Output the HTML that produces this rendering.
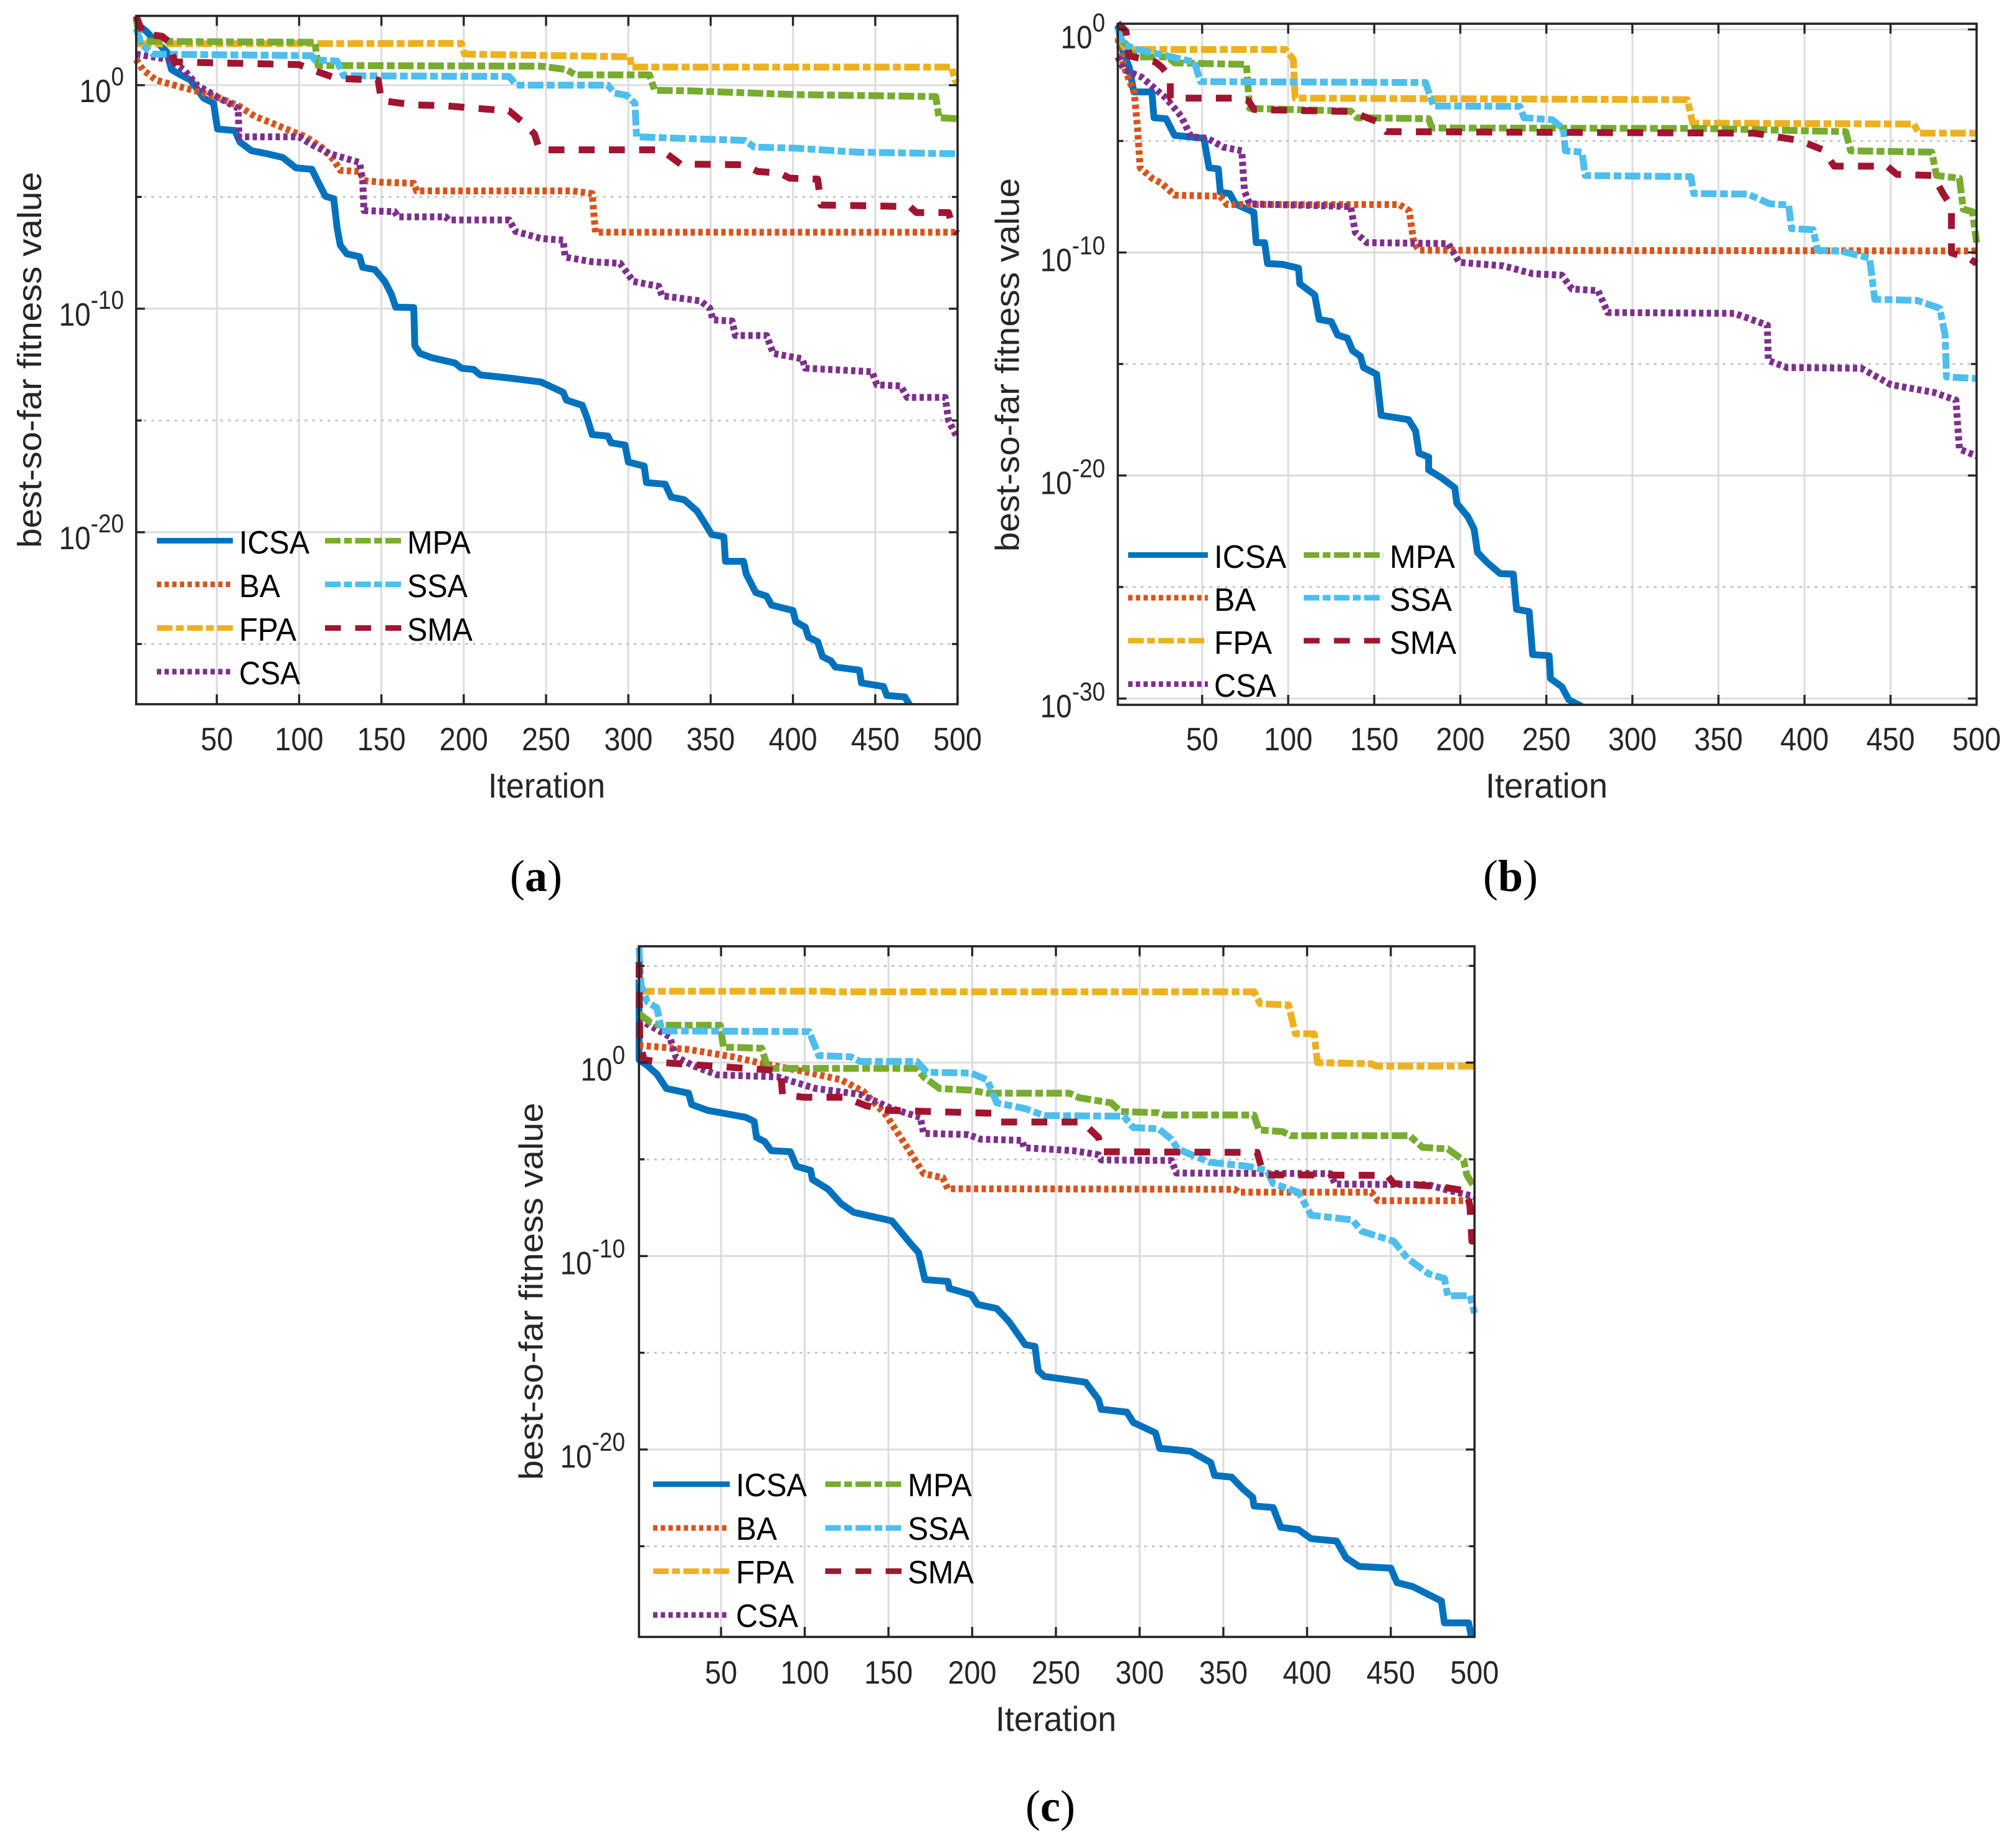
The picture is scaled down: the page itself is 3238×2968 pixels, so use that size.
<!DOCTYPE html>
<html lang="en">
<head>
<meta charset="utf-8">
<title>Convergence curves: best-so-far fitness value vs iteration</title>
<style>
html,body{margin:0;padding:0;background:#fff;}
svg{display:block;font-family:"Liberation Sans",Arial,sans-serif;}
.curve{fill:none;stroke-width:11;stroke-linejoin:round;stroke-linecap:butt;}
.swatch{fill:none;stroke-width:9;stroke-linecap:butt;}
.ICSA{stroke:#0072bd;}
.BA{stroke:#d95319;stroke-dasharray:7 5.3;}
.FPA{stroke:#edb120;stroke-dasharray:25 5.5 12.5 5.5;}
.CSA{stroke:#7e2f8e;stroke-dasharray:7 5.3;}
.MPA{stroke:#77ac30;stroke-dasharray:25 5.5 12.5 5.5;}
.SSA{stroke:#4dbeee;stroke-dasharray:25 5.5 12.5 5.5;}
.SMA{stroke:#a2142f;stroke-dasharray:25.5 23;}
.frame{fill:none;stroke:#262626;stroke-width:3.6;}
.leg{font-size:52px;fill:#000;}
.xtitle{font-size:56px;fill:#262626;text-anchor:middle;}
.ytitle{font-size:54px;fill:#262626;text-anchor:middle;}
.cap{font-family:"Liberation Serif",serif;font-size:72px;fill:#000;text-anchor:middle;}
</style>
</head>
<body>
<svg xmlns="http://www.w3.org/2000/svg" width="3238" height="2968" viewBox="0 0 3238 2968">
<rect x="0" y="0" width="3238" height="2968" fill="#fff"/>
<defs>
<clipPath id="clip-a"><rect x="213" y="20" width="1331" height="1111"/></clipPath>
<clipPath id="clip-b"><rect x="1790" y="33" width="1390" height="1099"/></clipPath>
<clipPath id="clip-c"><rect x="1021" y="1515" width="1352" height="1114"/></clipPath>
</defs>

<g id="panel-a">
  <g id="grid-a"></g>
  <g id="curves-a" clip-path="url(#clip-a)"></g>
  <rect class="frame" x="218.7" y="25.5" width="1319.3" height="1105.5"/>
  <g id="ticks-a"></g>
  <text class="xtitle" x="878" y="1281" textLength="188" lengthAdjust="spacingAndGlyphs">Iteration</text>
  <text class="ytitle" transform="translate(66 578) rotate(-90)" textLength="604" lengthAdjust="spacingAndGlyphs">best-so-far fitness value</text>
  <g>
    <line class="swatch ICSA" x1="252" x2="374" y1="868.4" y2="868.4"/>
    <text class="leg" x="384" y="889" textLength="113" lengthAdjust="spacingAndGlyphs">ICSA</text>
    <line class="swatch BA" x1="252" x2="374" y1="938.5" y2="938.5"/>
    <text class="leg" x="384" y="959" textLength="66" lengthAdjust="spacingAndGlyphs">BA</text>
    <line class="swatch FPA" x1="252" x2="374" y1="1008.6" y2="1008.6"/>
    <text class="leg" x="384" y="1029" textLength="92" lengthAdjust="spacingAndGlyphs">FPA</text>
    <line class="swatch CSA" x1="252" x2="374" y1="1078.7" y2="1078.7"/>
    <text class="leg" x="384" y="1099" textLength="98" lengthAdjust="spacingAndGlyphs">CSA</text>
    <line class="swatch MPA" x1="522" x2="645" y1="868.4" y2="868.4"/>
    <text class="leg" x="654" y="889" textLength="102" lengthAdjust="spacingAndGlyphs">MPA</text>
    <line class="swatch SSA" x1="522" x2="645" y1="938.5" y2="938.5"/>
    <text class="leg" x="654" y="959" textLength="97" lengthAdjust="spacingAndGlyphs">SSA</text>
    <line class="swatch SMA" x1="522" x2="645" y1="1008.6" y2="1008.6"/>
    <text class="leg" x="654" y="1029" textLength="105" lengthAdjust="spacingAndGlyphs">SMA</text>
  </g>
  <text class="cap" x="861" y="1431">(<tspan font-weight="bold">a</tspan>)</text>
</g>

<g id="panel-b">
  <g id="grid-b"></g>
  <g id="curves-b" clip-path="url(#clip-b)"></g>
  <rect class="frame" x="1795.4" y="38.1" width="1379.3" height="1093.9"/>
  <g id="ticks-b"></g>
  <text class="xtitle" x="2484" y="1281" textLength="196" lengthAdjust="spacingAndGlyphs">Iteration</text>
  <text class="ytitle" transform="translate(1636.6 586) rotate(-90)" textLength="600" lengthAdjust="spacingAndGlyphs">best-so-far fitness value</text>
  <g>
    <line class="swatch ICSA" x1="1812" x2="1940" y1="891.4" y2="891.4"/>
    <text class="leg" x="1950" y="912" textLength="116" lengthAdjust="spacingAndGlyphs">ICSA</text>
    <line class="swatch BA" x1="1812" x2="1940" y1="960" y2="960"/>
    <text class="leg" x="1950" y="981" textLength="67" lengthAdjust="spacingAndGlyphs">BA</text>
    <line class="swatch FPA" x1="1812" x2="1940" y1="1029" y2="1029"/>
    <text class="leg" x="1950" y="1050" textLength="93" lengthAdjust="spacingAndGlyphs">FPA</text>
    <line class="swatch CSA" x1="1812" x2="1940" y1="1098.7" y2="1098.7"/>
    <text class="leg" x="1950" y="1119" textLength="100" lengthAdjust="spacingAndGlyphs">CSA</text>
    <line class="swatch MPA" x1="2094" x2="2222" y1="891.4" y2="891.4"/>
    <text class="leg" x="2232" y="912" textLength="105" lengthAdjust="spacingAndGlyphs">MPA</text>
    <line class="swatch SSA" x1="2094" x2="2222" y1="960" y2="960"/>
    <text class="leg" x="2232" y="981" textLength="100" lengthAdjust="spacingAndGlyphs">SSA</text>
    <line class="swatch SMA" x1="2094" x2="2222" y1="1029" y2="1029"/>
    <text class="leg" x="2232" y="1050" textLength="107" lengthAdjust="spacingAndGlyphs">SMA</text>
  </g>
  <text class="cap" x="2426" y="1431">(<tspan font-weight="bold">b</tspan>)</text>
</g>

<g id="panel-c">
  <g id="grid-c"></g>
  <g id="curves-c" clip-path="url(#clip-c)"></g>
  <rect class="frame" x="1026.3" y="1519.8" width="1342" height="1109.2"/>
  <g id="ticks-c"></g>
  <text class="xtitle" x="1696" y="2780" textLength="194" lengthAdjust="spacingAndGlyphs">Iteration</text>
  <text class="ytitle" transform="translate(871.4 2074) rotate(-90)" textLength="606" lengthAdjust="spacingAndGlyphs">best-so-far fitness value</text>
  <g>
    <line class="swatch ICSA" x1="1049" x2="1172" y1="2383.8" y2="2383.8"/>
    <text class="leg" x="1182" y="2403" textLength="114" lengthAdjust="spacingAndGlyphs">ICSA</text>
    <line class="swatch BA" x1="1049" x2="1172" y1="2454" y2="2454"/>
    <text class="leg" x="1182" y="2473" textLength="66" lengthAdjust="spacingAndGlyphs">BA</text>
    <line class="swatch FPA" x1="1049" x2="1172" y1="2523.4" y2="2523.4"/>
    <text class="leg" x="1182" y="2543" textLength="93" lengthAdjust="spacingAndGlyphs">FPA</text>
    <line class="swatch CSA" x1="1049" x2="1172" y1="2593.8" y2="2593.8"/>
    <text class="leg" x="1182" y="2613" textLength="100" lengthAdjust="spacingAndGlyphs">CSA</text>
    <line class="swatch MPA" x1="1325.5" x2="1449" y1="2383.8" y2="2383.8"/>
    <text class="leg" x="1458" y="2403" textLength="103" lengthAdjust="spacingAndGlyphs">MPA</text>
    <line class="swatch SSA" x1="1325.5" x2="1449" y1="2454" y2="2454"/>
    <text class="leg" x="1458" y="2473" textLength="99" lengthAdjust="spacingAndGlyphs">SSA</text>
    <line class="swatch SMA" x1="1325.5" x2="1449" y1="2523.4" y2="2523.4"/>
    <text class="leg" x="1458" y="2543" textLength="106" lengthAdjust="spacingAndGlyphs">SMA</text>
  </g>
  <text class="cap" x="1687" y="2925">(<tspan font-weight="bold">c</tspan>)</text>
</g>
</svg>

<script>
/* Tick values and labels */
const xTickValues = [50,100,150,200,250,300,350,400,450,500];
const xTickLabels = ['50','100','150','200','250','300','350','400','450','500'];
const aMajorExponents = [0,-10,-20];
const aMinorExponents = [-5,-15,-25];
const bMajorExponents = [0,-10,-20,-30];
const bMinorExponents = [-5,-15,-25];
const cMajorExponents = [0,-10,-20];
const cMinorExponents = [5,-5,-15,-25];

/* Panel (a): iteration and log10(best-so-far fitness) */
const a_ICSA_iter = [1,7,13,19.5,22.5,28,34,42,48,50.4,61,64,71,80.6,90,98,107.7,111.5,116,121,123,125,129,136.7,138.6,146,152,156,158.7,169.6,170.3,173.4,181,194.7,198.6,206,210,227.6,247,260.4,262.4,272,275,278,287.6,289.5,298,300,309.6,311,322.4,326,334,341.7,345.6,350.6,358,359,370,371.6,374.6,377.4,384,387,400,401.7,407.5,409.4,415,418,423,425.7,440.4,441.6,455,457,468,471];
const a_ICSA_log = [2.77,2.42,1.96,1.5,0.7,0.46,0.23,-0.58,-0.8,-1.96,-2.03,-2.54,-2.93,-3.07,-3.23,-3.7,-3.76,-4.32,-4.97,-5.08,-6.35,-7.16,-7.55,-7.67,-8.15,-8.25,-8.78,-9.35,-9.93,-9.95,-11.66,-12,-12.2,-12.43,-12.66,-12.72,-12.96,-13.1,-13.28,-13.74,-14.09,-14.32,-14.9,-15.63,-15.7,-16,-16.1,-16.86,-17.04,-17.78,-17.85,-18.43,-18.55,-19.05,-19.5,-20.1,-20.2,-21.3,-21.3,-21.87,-22.3,-22.7,-22.86,-23.26,-23.5,-24,-24.25,-24.7,-24.9,-25.57,-25.75,-26.03,-26.17,-26.74,-26.9,-27.3,-27.37,-27.74];
const a_BA_iter = [1,5,13,26.5,42,51.6,63,73,84.5,96,104,113.5,121,125,136.7,139.5,150,169.6,171.4,266,278,280,500];
const a_BA_log = [1.15,0.7,0.23,-0.05,-0.35,-0.58,-0.92,-1.39,-1.73,-2.08,-2.31,-2.77,-3.35,-3.81,-3.86,-4.27,-4.34,-4.39,-4.73,-4.73,-4.85,-6.58,-6.58];
const a_FPA_iter = [1,198.6,200.5,301,301.8,496.4,498.3,500];
const a_FPA_log = [1.85,1.87,1.39,1.27,0.81,0.81,0.23,0.12];
const a_CSA_iter = [1,20.6,30,38,49.7,63,63.5,100,107.7,119,136.7,138.6,139.4,158,160,189,190.8,227.6,231.5,247,260.4,261.6,278,295,303,318.5,320.4,343.7,349.5,351.4,363,365,384,388,405.6,407.5,448,451,465.5,469.4,492.5,494.5,500];
const a_CSA_log = [1.39,1.15,0.69,0,-0.5,-1.04,-2.31,-2.31,-2.66,-3.07,-3.46,-4.27,-5.61,-5.66,-5.89,-5.89,-6.03,-6.03,-6.54,-6.86,-6.93,-7.69,-7.9,-7.97,-8.78,-9,-9.42,-9.65,-9.98,-10.5,-10.55,-11.2,-11.2,-12,-12.24,-12.66,-12.82,-13.4,-13.46,-13.97,-13.97,-15,-15.8];
const a_MPA_iter = [1,3.3,109.6,111.5,247,262.4,268,312.8,316,336,401.7,486.8,488.7,500];
const a_MPA_log = [3,1.96,1.92,0.88,0.85,0.7,0.46,0.46,-0.23,-0.25,-0.42,-0.51,-1.45,-1.5];
const a_SSA_iter = [1,4,11,107.7,109.6,123,127,227.6,232,287.6,291.5,299,304,305,332,370.7,376.5,401.7,440,500];
const a_SSA_log = [2.54,1.85,1.39,1.32,1.13,1.08,0.42,0.39,0,0,-0.35,-0.46,-0.81,-2.31,-2.38,-2.47,-2.77,-2.82,-3,-3.07];
const a_SMA_iter = [1,5,16.7,20.6,24.5,100,107.7,123,148,150,169.6,189,208,227.6,237,243,246,320,331.7,370.7,378.5,392,398,415,417,471,475,494.5,497.6,500];
const a_SMA_log = [3.1,2.3,2.19,1.96,1.04,0.92,0.69,0.3,0.23,-0.69,-0.88,-0.92,-1.04,-1.15,-1.73,-2.19,-2.89,-2.89,-3.53,-3.56,-3.86,-3.93,-4.16,-4.2,-5.36,-5.43,-5.7,-5.7,-6.47,-6.63];

/* Panel (b): iteration and log10(best-so-far fitness) */
const b_ICSA_iter = [1,4,7.6,10.3,20.8,22,29,34,51,54,59.4,60.6,66,69.3,80,81.4,86.3,88,96.5,106,106.7,115.4,118,125,128.7,134.4,137.4,142,143.8,151.4,154,170,174,176,181.6,181.6,189,196.8,198,204.3,208,210,215.6,223.2,230.8,232.7,240,242,251.6,252.4,259,263,270.5];
const b_ICSA_log = [0.16,-1,-1.69,-2.8,-2.8,-3.96,-4,-4.75,-4.88,-6.2,-6.25,-7.3,-7.36,-7.82,-8.2,-9.56,-9.56,-10.5,-10.53,-10.7,-11.4,-11.9,-13,-13.1,-13.7,-13.84,-14.4,-14.65,-15.16,-15.46,-17.3,-17.5,-18,-19,-19.17,-19.75,-20.1,-20.55,-21.25,-21.83,-22.4,-23.45,-23.9,-24.4,-24.42,-26,-26.1,-28.03,-28.08,-29.1,-29.47,-30.05,-30.35];
const b_BA_iter = [1,4.6,10.6,12.5,14,20.8,26.5,34,60.6,64.3,164.6,170.3,173,176,500];
const b_BA_log = [-0.4,-1.69,-2.85,-4.47,-6.2,-6.67,-6.9,-7.43,-7.48,-7.85,-7.85,-8.13,-9.56,-9.9,-9.93];
const b_FPA_iter = [1,5.7,98.4,103,104,332,335,463.5,466.5,500];
const b_FPA_log = [-0.3,-0.9,-0.9,-1.34,-3.08,-3.15,-4.2,-4.24,-4.65,-4.65];
const b_CSA_iter = [1,4.6,15,29,37.8,43.5,53,62.4,73,74.6,77.6,136.3,139,145.7,193,199.4,225,242,259,264.9,280,285.7,359.4,378.4,379,389.7,433,450.3,475,488,490,500];
const b_CSA_log = [-1.23,-1.8,-2.15,-3.08,-3.89,-4.81,-4.88,-5.28,-5.44,-7.25,-7.82,-7.94,-9.1,-9.56,-9.6,-10.44,-10.6,-10.95,-11.02,-11.64,-11.71,-12.69,-12.73,-13.26,-14.84,-15.16,-15.19,-15.93,-16.27,-16.62,-18.82,-19.12];
const b_MPA_iter = [1,5.7,11.4,30,34,75.7,77.6,136.3,140,181.6,183.5,338.7,424,426.8,474,476.7,490,492.3,497.6,500];
const b_MPA_log = [-0.42,-0.65,-1.23,-1.23,-1.5,-1.57,-3.54,-3.66,-3.96,-4,-4.42,-4.44,-4.58,-5.44,-5.5,-6.55,-6.67,-8.06,-8.17,-9.56];
const b_SSA_iter = [1,4,11.4,45.5,49,179.8,184.4,234.6,237,253.5,260,261,270.7,272.5,334,335.6,367,380,390.8,392.4,405,407.6,422,437.8,440.8,465.4,478.6,481.7,482.5,500];
const b_SSA_log = [0.05,-0.65,-0.88,-1.46,-2.34,-2.38,-3.43,-3.45,-3.96,-4.05,-4.47,-5.44,-5.5,-6.55,-6.6,-7.36,-7.38,-7.82,-7.87,-8.93,-8.98,-9.9,-9.95,-10.25,-12.1,-12.15,-12.5,-13.7,-15.58,-15.65];
const b_SMA_iter = [1,5.7,7.6,22.8,26.5,31.5,31.5,70,76.8,80.2,136.3,151.4,157,370.8,397.3,410.5,417.3,448,453.7,474.7,480.5,485.4,485.4,495.6,500];
const b_SMA_log = [0.28,-0.07,-1.18,-1.46,-1.69,-2.15,-3.08,-3.08,-3.19,-3.59,-3.68,-4.12,-4.58,-4.65,-4.98,-5.39,-6.13,-6.13,-6.5,-6.55,-7.36,-7.94,-10.02,-10.25,-10.49];

/* Panel (c): iteration and log10(best-so-far fitness) */
const c_ICSA_iter = [1,1,6,11.7,17.4,30.6,32.5,42,64.8,69.8,71.2,76,80,91.4,95,103.5,104.6,114,121.7,129.3,152,163.4,168,171.8,185.5,186.3,199.4,203.2,214.6,222,231.7,237.5,239.4,243,267.7,275.4,277,292.4,296.2,309.5,312,330.4,342.5,344.8,355,361.5,367.5,368.3,379.7,384.3,394.8,402.4,417.6,423.3,431,450,453.7,463,480.2,482,496.5,498,500];
const c_ICSA_log = [4.3,0.15,-0.15,-0.6,-1.34,-1.58,-2.17,-2.47,-2.83,-3.04,-3.87,-4.08,-4.55,-4.61,-5.36,-5.57,-6.04,-6.55,-7.29,-7.74,-8.18,-9.38,-9.82,-11.22,-11.31,-11.67,-12,-12.5,-12.71,-13.39,-14.58,-14.67,-15.92,-16.22,-16.52,-17.41,-17.92,-18.07,-18.6,-19.14,-19.94,-20.09,-20.68,-21.34,-21.43,-22.02,-22.47,-22.92,-23,-24.02,-24.14,-24.61,-24.73,-25.6,-26.04,-26.13,-26.88,-27.08,-27.83,-28.96,-28.96,-29.61,-29.7];
const c_BA_iter = [1,30.6,57,72.4,99,121.7,135,148.3,159.6,171,182.4,185.4,357,359,438.5,442.3,500];
const c_BA_log = [0.89,0.68,0.3,0,-0.45,-0.89,-1.49,-2.68,-4.17,-5.74,-5.95,-6.52,-6.55,-6.7,-6.7,-7.14,-7.14];
const c_FPA_iter = [1,114,116,368.3,372,389,393,404.3,406.2,438.5,441,500];
const c_FPA_log = [3.69,3.69,3.66,3.66,3.04,2.98,1.49,1.49,0,-0.06,-0.18,-0.18];
const c_CSA_iter = [1,19.3,23,34.4,47.6,83.7,106.5,133,152,169,171,197.6,205,229.8,231,260.2,275.4,277,319,322,413.8,416.8,472.6,482,500];
const c_CSA_log = [2.23,1.34,0.3,-0.2,-0.63,-0.74,-1.34,-1.64,-2.38,-2.83,-3.66,-3.72,-3.96,-4.02,-4.4,-4.55,-4.76,-5.03,-5.06,-5.71,-5.74,-6.28,-6.31,-6.55,-6.93];
const c_MPA_iter = [1,7.9,13.5,49.6,51.4,74.3,78,167,171,180.5,199.4,208.9,258,264,283,288.6,311,315,368.3,371.3,385.4,390.2,461.3,468.9,484,493.5,495.4,500];
const c_MPA_log = [2.53,2.08,1.93,1.93,0.8,0.74,-0.3,-0.3,-0.74,-1.34,-1.43,-1.58,-1.58,-1.82,-2.08,-2.53,-2.59,-2.71,-2.71,-3.48,-3.57,-3.78,-3.78,-4.38,-4.46,-5.06,-5.8,-6.46];
const c_SSA_iter = [1,2.2,6,11.7,14.7,102.7,108.4,127.4,133,167,172.9,199.4,208.9,214.7,231.7,243,290.5,296.2,311.3,319,322.7,341.7,364.5,376,379.7,394.8,402.4,427,432.7,451.7,460,472.6,482,484,497.3,500];
const c_SSA_log = [5.95,4.02,3.13,2.83,1.64,1.6,0.36,0.3,0.06,0.06,-0.5,-0.54,-0.89,-2.08,-2.38,-2.74,-2.77,-3.36,-3.42,-3.96,-4.46,-5.15,-5.36,-5.57,-6.25,-6.7,-7.89,-8.13,-8.72,-9.23,-10.12,-10.92,-11.16,-12.05,-12.05,-12.95];
const c_SMA_iter = [1,1.5,4,15.5,80,85.6,86.7,99,123.6,136.8,150,212.7,216.5,265.8,275.4,277,370.2,374,447.9,451.7,478.4,495.4,497.3,498.4,500];
const c_SMA_log = [5.2,1.04,0.15,0,-0.39,-0.5,-1.64,-1.79,-1.79,-2.23,-2.47,-2.62,-3.07,-3.07,-3.87,-4.61,-4.64,-5.8,-5.83,-6.25,-6.4,-6.64,-7.44,-9.23,-9.23];

const SVGNS = 'http://www.w3.org/2000/svg';

function make(tag, attrs) {
  const node = document.createElementNS(SVGNS, tag);
  for (const k in attrs) node.setAttribute(k, attrs[k]);
  return node;
}

function makeXScale(left, right) {
  return function (iter) { return left + (iter - 1) * (right - left) / 499; };
}
function makeYScale(yAtZero, pxPerDecade) {
  return function (logValue) { return yAtZero - logValue * pxPerDecade; };
}

function drawPanel(p) {
  const x = makeXScale(p.left, p.right);
  const y = makeYScale(p.yAtZero, p.pxPerDecade);
  const grid = document.getElementById('grid-' + p.id);
  const ticks = document.getElementById('ticks-' + p.id);
  const curves = document.getElementById('curves-' + p.id);

  xTickValues.forEach(function (v, i) {
    const px = x(v);
    if (v < 500) {
      const gl = make('line', {x1: px, x2: px, y1: p.top, y2: p.bottom, stroke: '#dcdcdc', 'stroke-width': 3});
      
      
      grid.appendChild(gl);
    }
    const t1 = make('line', {x1: px, x2: px, y1: p.bottom, y2: p.bottom - 16, stroke: '#262626', 'stroke-width': 3.4});
    
    
    ticks.appendChild(t1);
    const t2 = make('line', {x1: px, x2: px, y1: p.top, y2: p.top + 16, stroke: '#262626', 'stroke-width': 3.4});
    
    
    ticks.appendChild(t2);
    const lab = make('text', {transform: 'translate(' + px + ' ' + p.xLabelY + ') scale(0.9 1)', 'text-anchor': 'middle', 'font-size': 52, fill: '#262626'});
    lab.textContent = xTickLabels[i];
    
    
    ticks.appendChild(lab);
  });

  p.major.forEach(function (e) {
    const py = y(e);
    const gl = make('line', {x1: p.left, x2: p.right, y1: py, y2: py, stroke: '#dcdcdc', 'stroke-width': 3});
    
    
    grid.appendChild(gl);
    const t1 = make('line', {x1: p.left, x2: p.left + 14, y1: py, y2: py, stroke: '#262626', 'stroke-width': 3.4});
    
    
    ticks.appendChild(t1);
    const t2 = make('line', {x1: p.right, x2: p.right - 14, y1: py, y2: py, stroke: '#262626', 'stroke-width': 3.4});
    
    
    ticks.appendChild(t2);
    const lab = make('text', {transform: 'translate(' + p.yLabelX + ' ' + (py + p.yLabelDrop) + ') scale(0.88 1)', 'text-anchor': 'end', 'font-size': 52, fill: '#262626'});
    lab.appendChild(document.createTextNode('10'));
    const sup = make('tspan', {dy: -27, 'font-size': 42});
    sup.textContent = String(e);
    lab.appendChild(sup);
    
    
    ticks.appendChild(lab);
  });

  p.minor.forEach(function (e) {
    const py = y(e);
    const gl = make('line', {x1: p.left + 12, x2: p.right - 8, y1: py, y2: py, stroke: '#c6c6c6', 'stroke-width': 3, 'stroke-dasharray': '4.5 7.8'});
    
    
    grid.appendChild(gl);
    const t1 = make('line', {x1: p.left, x2: p.left + 9, y1: py, y2: py, stroke: '#262626', 'stroke-width': 3.4});
    
    
    ticks.appendChild(t1);
    const t2 = make('line', {x1: p.right, x2: p.right - 9, y1: py, y2: py, stroke: '#262626', 'stroke-width': 3.4});
    
    
    ticks.appendChild(t2);
  });

  p.series.forEach(function (s) {
    let d = '';
    s.iter.forEach(function (it, i) {
      d += (i ? 'L' : 'M') + x(it).toFixed(1) + ' ' + y(s.log[i]).toFixed(1);
    });
    const path = make('path', {d: d, class: 'curve ' + s.name});
    
    
    curves.appendChild(path);
  });
}

drawPanel({id: 'a', left: 218.7, right: 1538, top: 25.5, bottom: 1131, yAtZero: 136.8, pxPerDecade: 35.9,
  xLabelY: 1205, yLabelX: 199, yLabelDrop: 27, major: aMajorExponents, minor: aMinorExponents,
  series: [
    {name: 'ICSA', iter: a_ICSA_iter, log: a_ICSA_log},
    {name: 'BA', iter: a_BA_iter, log: a_BA_log},
    {name: 'FPA', iter: a_FPA_iter, log: a_FPA_log},
    {name: 'CSA', iter: a_CSA_iter, log: a_CSA_log},
    {name: 'MPA', iter: a_MPA_iter, log: a_MPA_log},
    {name: 'SSA', iter: a_SSA_iter, log: a_SSA_log},
    {name: 'SMA', iter: a_SMA_iter, log: a_SMA_log}
  ]});
drawPanel({id: 'b', left: 1795.4, right: 3174.7, top: 38.1, bottom: 1132, yAtZero: 47.3, pxPerDecade: 35.82,
  xLabelY: 1205, yLabelX: 1775, yLabelDrop: 30, major: bMajorExponents, minor: bMinorExponents,
  series: [
    {name: 'ICSA', iter: b_ICSA_iter, log: b_ICSA_log},
    {name: 'BA', iter: b_BA_iter, log: b_BA_log},
    {name: 'FPA', iter: b_FPA_iter, log: b_FPA_log},
    {name: 'CSA', iter: b_CSA_iter, log: b_CSA_log},
    {name: 'MPA', iter: b_MPA_iter, log: b_MPA_log},
    {name: 'SSA', iter: b_SSA_iter, log: b_SSA_log},
    {name: 'SMA', iter: b_SMA_iter, log: b_SMA_log}
  ]});
drawPanel({id: 'c', left: 1026.3, right: 2368.3, top: 1519.8, bottom: 2629, yAtZero: 1706.6, pxPerDecade: 31.07,
  xLabelY: 2704, yLabelX: 1004, yLabelDrop: 29, major: cMajorExponents, minor: cMinorExponents,
  series: [
    {name: 'ICSA', iter: c_ICSA_iter, log: c_ICSA_log},
    {name: 'BA', iter: c_BA_iter, log: c_BA_log},
    {name: 'FPA', iter: c_FPA_iter, log: c_FPA_log},
    {name: 'CSA', iter: c_CSA_iter, log: c_CSA_log},
    {name: 'MPA', iter: c_MPA_iter, log: c_MPA_log},
    {name: 'SSA', iter: c_SSA_iter, log: c_SSA_log},
    {name: 'SMA', iter: c_SMA_iter, log: c_SMA_log}
  ]});
</script>
</body>
</html>
